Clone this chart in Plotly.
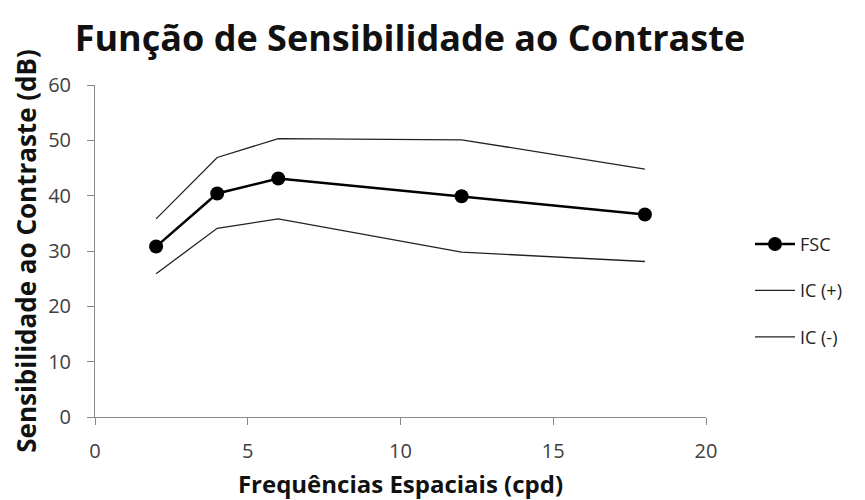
import plotly.graph_objects as go

freq = [2, 4, 6, 12, 18]
fsc = [30.8, 40.4, 43.1, 39.9, 36.6]
ic_plus = [35.8, 46.9, 50.3, 50.1, 44.8]
ic_minus = [25.9, 34.1, 35.8, 29.8, 28.1]

FONT = "Open Sans"

fig = go.Figure()
fig.add_trace(go.Scatter(x=freq, y=fsc, name="FSC", mode="lines+markers",
                         line=dict(color="black", width=2.5),
                         marker=dict(color="black", size=14),
                         legendgroup="a"))
fig.add_trace(go.Scatter(x=freq, y=ic_plus, name="IC (+)", mode="lines",
                         line=dict(color="#222222", width=1.3),
                         legendgroup="b"))
fig.add_trace(go.Scatter(x=freq, y=ic_minus, name="IC (-)", mode="lines",
                         line=dict(color="#222222", width=1.3),
                         legendgroup="c"))

fig.update_layout(
    width=857, height=492,
    margin=dict(l=87, r=159, t=77, b=83, autoexpand=False),
    paper_bgcolor="white", plot_bgcolor="white",
    font=dict(family=FONT, color="#333333"),
    title=dict(text="<b>Função de Sensibilidade ao Contraste</b>",
               font=dict(family=FONT, size=36, color="#111111"),
               x=0.469, xanchor="center", y=0.939, yanchor="middle"),
    showlegend=True,
    legend=dict(x=1.072, xanchor="left", y=0.38, yanchor="middle",
                font=dict(family=FONT, size=18, color="#222222"),
                tracegroupgap=20, itemwidth=40, bgcolor="rgba(0,0,0,0)"),
    xaxis=dict(range=[0, 20], tickvals=[0, 5, 10, 15, 20],
               showgrid=False, zeroline=False, showline=True,
               linecolor="#888888", linewidth=1, automargin=False,
               ticks="outside", ticklen=7, tickcolor="#888888",
               ticklabelstandoff=9,
               tickfont=dict(family=FONT, size=20, color="#404040"),
               title=dict(text="<b>Frequências Espaciais (cpd)</b>",
                          font=dict(family=FONT, size=24, color="#111111"),
                          standoff=25)),
    yaxis=dict(range=[0, 60], tickvals=[0, 10, 20, 30, 40, 50, 60],
               showgrid=False, zeroline=False, showline=True,
               linecolor="#888888", linewidth=1, automargin=False,
               ticks="outside", ticklen=7, tickcolor="#888888",
               ticklabelstandoff=12,
               tickfont=dict(family=FONT, size=20, color="#404040"),
               title=dict(text="<b>Sensibilidade ao Contraste (dB)</b>",
                          font=dict(family=FONT, size=26, color="#111111"),
                          standoff=15)),
)

fig.write_html("out.html")
